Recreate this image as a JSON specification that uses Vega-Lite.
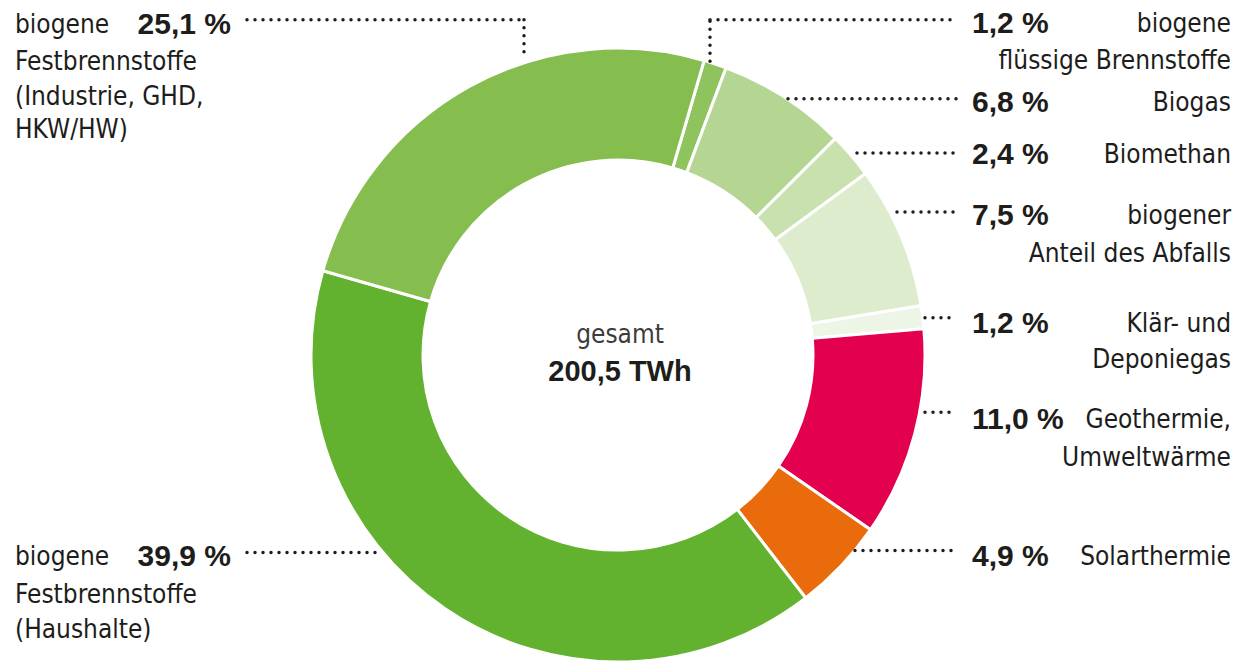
{
  "$schema": "https://vega.github.io/schema/vega-lite/v6.json",
  "width": 1238,
  "height": 664,
  "autosize": {"type": "fit", "contains": "padding"},
  "padding": 0,
  "background": "white",
  "config": {"view": {"stroke": null}},
  "datasets": {
    "slices": [
      {"category": "biogene flüssige Brennstoffe", "value": 1.2, "order": 1},
      {"category": "Biogas", "value": 6.8, "order": 2},
      {"category": "Biomethan", "value": 2.4, "order": 3},
      {"category": "biogener Anteil des Abfalls", "value": 7.5, "order": 4},
      {"category": "Klär- und Deponiegas", "value": 1.2, "order": 5},
      {"category": "Geothermie, Umweltwärme", "value": 11.0, "order": 6},
      {"category": "Solarthermie", "value": 4.9, "order": 7},
      {"category": "biogene Festbrennstoffe (Haushalte)", "value": 39.9, "order": 8},
      {"category": "biogene Festbrennstoffe (Industrie, GHD, HKW/HW)", "value": 25.1, "order": 9}
    ],
    "leaders": [
      {"category": "Industrie", "x": -371, "y": 338, "x2": -94, "y2": 338},
      {"category": "Industrie", "x": -94, "y": 338, "x2": -94, "y2": 298},
      {"category": "flüssig", "x": 92, "y": 296, "x2": 92, "y2": 338},
      {"category": "flüssig", "x": 92, "y": 338, "x2": 339, "y2": 338},
      {"category": "Biogas", "x": 170, "y": 258, "x2": 339, "y2": 258},
      {"category": "Biomethan", "x": 239, "y": 203, "x2": 339, "y2": 203},
      {"category": "Abfall", "x": 279, "y": 143, "x2": 339, "y2": 143},
      {"category": "Klär", "x": 307, "y": 36, "x2": 339, "y2": 36},
      {"category": "Geothermie", "x": 307, "y": -60, "x2": 339, "y2": -60},
      {"category": "Solar", "x": 237, "y": -200, "x2": 339, "y2": -200},
      {"category": "Haushalte", "x": -371, "y": -202, "x2": -241, "y2": -202}
    ],
    "labels": [
      {"role": "pct-right", "text": "1,2 %", "x": 354, "y": 334},
      {"role": "pct-right", "text": "6,8 %", "x": 354, "y": 254},
      {"role": "pct-right", "text": "2,4 %", "x": 354, "y": 201},
      {"role": "pct-right", "text": "7,5 %", "x": 354, "y": 139},
      {"role": "pct-right", "text": "1,2 %", "x": 354, "y": 30},
      {"role": "pct-right", "text": "11,0 %", "x": 354, "y": -68},
      {"role": "pct-right", "text": "4,9 %", "x": 354, "y": -207},
      {"role": "name-right", "text": "biogene", "x": 613, "y": 334},
      {"role": "name-right", "text": "flüssige Brennstoffe", "x": 613, "y": 296},
      {"role": "name-right", "text": "Biogas", "x": 613, "y": 254},
      {"role": "name-right", "text": "Biomethan", "x": 613, "y": 201},
      {"role": "name-right", "text": "biogener", "x": 613, "y": 139},
      {"role": "name-right", "text": "Anteil des Abfalls", "x": 613, "y": 101},
      {"role": "name-right", "text": "Klär- und", "x": 613, "y": 30},
      {"role": "name-right", "text": "Deponiegas", "x": 613, "y": -7},
      {"role": "name-right", "text": "Geothermie,", "x": 613, "y": -68},
      {"role": "name-right", "text": "Umweltwärme", "x": 613, "y": -106},
      {"role": "name-right", "text": "Solarthermie", "x": 613, "y": -207},
      {"role": "name-left", "text": "biogene", "x": -603, "y": 333},
      {"role": "name-left", "text": "Festbrennstoffe", "x": -603, "y": 295},
      {"role": "name-left", "text": "(Industrie, GHD,", "x": -603, "y": 260},
      {"role": "name-left", "text": "HKW/HW)", "x": -603, "y": 226},
      {"role": "name-left", "text": "biogene", "x": -603, "y": -207},
      {"role": "name-left", "text": "Festbrennstoffe", "x": -603, "y": -245},
      {"role": "name-left", "text": "(Haushalte)", "x": -603, "y": -281},
      {"role": "pct-left", "text": "25,1 %", "x": -387, "y": 333},
      {"role": "pct-left", "text": "39,9 %", "x": -387, "y": -207},
      {"role": "total-title", "text": "gesamt", "x": 2, "y": 18},
      {"role": "total-value", "text": "200,5 TWh", "x": 2, "y": -19}
    ]
  },
  "layer": [
    {
      "data": {"name": "slices"},
      "transform": [
        {"stack": "value", "groupby": [], "sort": [{"field": "order", "order": "ascending"}], "as": ["v0", "v1"]}
      ],
      "mark": {"type": "arc", "outerRadius": 307, "innerRadius": 195, "stroke": "white", "strokeWidth": 3},
      "encoding": {
        "x": {"datum": 0, "type": "quantitative", "stack": null, "scale": {"domain": [-618, 620], "nice": false, "zero": false}, "axis": null},
        "y": {"datum": -2, "type": "quantitative", "stack": null, "scale": {"domain": [-306, 358], "nice": false, "zero": false}, "axis": null},
        "theta": {"field": "v0", "type": "quantitative", "stack": null, "scale": {"domain": [0, 100], "range": [0.2845, 6.5677], "zero": false, "nice": false}},
        "theta2": {"field": "v1"},
        "color": {
          "field": "category",
          "type": "nominal",
          "scale": {
            "domain": ["biogene flüssige Brennstoffe", "Biogas", "Biomethan", "biogener Anteil des Abfalls", "Klär- und Deponiegas", "Geothermie, Umweltwärme", "Solarthermie", "biogene Festbrennstoffe (Haushalte)", "biogene Festbrennstoffe (Industrie, GHD, HKW/HW)"],
            "range": ["#8fc35d", "#b5d592", "#c8e1ae", "#deecce", "#edf5e6", "#e2004f", "#e96b0c", "#62b22f", "#86bd4f"]
          },
          "legend": null
        }
      }
    },
    {
      "data": {"name": "leaders"},
      "mark": {"type": "rule", "color": "#1d1d1b", "strokeWidth": 3.5, "strokeDash": [0, 8], "strokeCap": "round"},
      "encoding": {
        "x": {"field": "x", "type": "quantitative", "scale": {"domain": [-618, 620], "nice": false, "zero": false}, "axis": null},
        "x2": {"field": "x2"},
        "y": {"field": "y", "type": "quantitative", "scale": {"domain": [-306, 358], "nice": false, "zero": false}, "axis": null},
        "y2": {"field": "y2"}
      }
    },
    {
      "data": {"name": "labels"},
      "transform": [{"filter": "datum.role === 'pct-right'"}],
      "mark": {"type": "text", "align": "left", "baseline": "middle", "font": "Liberation Sans", "fontWeight": "bold", "fontSize": 30, "color": "#1d1d1b"},
      "encoding": {
        "x": {"field": "x", "type": "quantitative", "axis": null},
        "y": {"field": "y", "type": "quantitative", "axis": null},
        "text": {"field": "text"}
      }
    },
    {
      "data": {"name": "labels"},
      "transform": [{"filter": "datum.role === 'pct-left'"}],
      "mark": {"type": "text", "align": "right", "baseline": "middle", "font": "Liberation Sans", "fontWeight": "bold", "fontSize": 30, "color": "#1d1d1b"},
      "encoding": {
        "x": {"field": "x", "type": "quantitative", "axis": null},
        "y": {"field": "y", "type": "quantitative", "axis": null},
        "text": {"field": "text"}
      }
    },
    {
      "data": {"name": "labels"},
      "transform": [{"filter": "datum.role === 'name-right'"}],
      "mark": {"type": "text", "align": "right", "baseline": "middle", "font": "DejaVu Sans Condensed", "fontSize": 26, "color": "#1d1d1b"},
      "encoding": {
        "x": {"field": "x", "type": "quantitative", "axis": null},
        "y": {"field": "y", "type": "quantitative", "axis": null},
        "text": {"field": "text"}
      }
    },
    {
      "data": {"name": "labels"},
      "transform": [{"filter": "datum.role === 'name-left'"}],
      "mark": {"type": "text", "align": "left", "baseline": "middle", "font": "DejaVu Sans Condensed", "fontSize": 26, "color": "#1d1d1b"},
      "encoding": {
        "x": {"field": "x", "type": "quantitative", "axis": null},
        "y": {"field": "y", "type": "quantitative", "axis": null},
        "text": {"field": "text"}
      }
    },
    {
      "data": {"name": "labels"},
      "transform": [{"filter": "datum.role === 'total-title'"}],
      "mark": {"type": "text", "align": "center", "baseline": "middle", "font": "DejaVu Sans Condensed", "fontSize": 26, "color": "#3c3c3b"},
      "encoding": {
        "x": {"field": "x", "type": "quantitative", "axis": null},
        "y": {"field": "y", "type": "quantitative", "axis": null},
        "text": {"field": "text"}
      }
    },
    {
      "data": {"name": "labels"},
      "transform": [{"filter": "datum.role === 'total-value'"}],
      "mark": {"type": "text", "align": "center", "baseline": "middle", "font": "Liberation Sans", "fontWeight": "bold", "fontSize": 29, "color": "#1d1d1b"},
      "encoding": {
        "x": {"field": "x", "type": "quantitative", "axis": null},
        "y": {"field": "y", "type": "quantitative", "axis": null},
        "text": {"field": "text"}
      }
    }
  ]
}
